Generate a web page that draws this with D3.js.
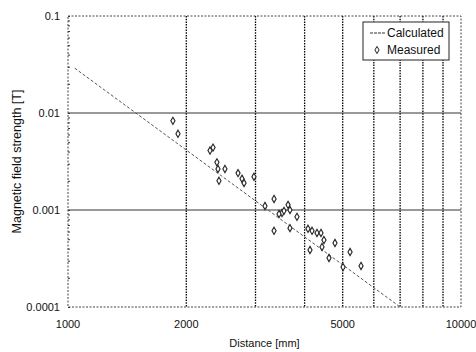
<!DOCTYPE html>
<html>
<head>
<meta charset="utf-8">
<script src="https://cdn.jsdelivr.net/npm/d3@7"></script>
<style>
  body { margin: 0; background: #fff; }
  text { font-family: "Liberation Sans", Arial, sans-serif; fill: #111; }
</style>
</head>
<body>
<div id="chart"></div>
<script>
// Calculated curve (straight in log-log)
const calcDistance = [1040, 7000];
const calcField = [0.029, 0.0001];

// Measured points (distance mm, field T)
const measDistance = [1849, 1905, 2298, 2339, 2393, 2408, 2508, 2422, 2708, 2772, 2805, 2973,
  3344, 3171, 3630, 3504, 3443, 3671, 3825, 3344, 3671, 4080, 4178, 4301, 4403, 4480,
  4779, 4128, 4429, 4614, 5010, 5220, 5567, 3545];
const measField = [0.0083, 0.0061, 0.0041, 0.0044, 0.0031, 0.00265, 0.00265, 0.002, 0.0024, 0.0021, 0.0019, 0.0022,
  0.0013, 0.0011, 0.00113, 0.00093, 0.00091, 0.001, 0.00085, 0.00061, 0.00065, 0.00064, 0.00061, 0.00058, 0.00058, 0.00049,
  0.000457, 0.000387, 0.000416, 0.00032, 0.000258, 0.000369, 0.000265, 0.00098];

const xTickLabels = [1000, 2000, 5000, 10000];
const yTickLabels = [0.1, 0.01, 0.001, 0.0001];
const xGrid = [2000, 3000, 4000, 5000, 6000, 7000, 8000, 9000];
const yGrid = [0.01, 0.001];

const margin = { top: 16, right: 15, bottom: 45, left: 68 };
const width = 476 - margin.left - margin.right;
const height = 352 - margin.top - margin.bottom;

const svg = d3.select("#chart").append("svg")
    .attr("width", 476)
    .attr("height", 352)
    .append("g")
    .attr("transform", `translate(${margin.left},${margin.top})`);

const x = d3.scaleLog().domain([1000, 10000]).range([0, width]);
const y = d3.scaleLog().domain([0.0001, 0.1]).range([height, 0]);

// horizontal grid (solid gray)
svg.selectAll(".hgrid").data(yGrid).enter().append("line")
    .attr("x1", 0).attr("x2", width)
    .attr("y1", d => y(d)).attr("y2", d => y(d))
    .attr("stroke", "#777").attr("stroke-width", 1.3);

// vertical grid (dotted black)
svg.selectAll(".vgrid").data(xGrid).enter().append("line")
    .attr("x1", d => x(d)).attr("x2", d => x(d))
    .attr("y1", 0).attr("y2", height)
    .attr("stroke", "#000").attr("stroke-width", 1.3)
    .attr("stroke-dasharray", "1.5,1.2");

// plot border dotted
svg.append("rect")
    .attr("width", width).attr("height", height)
    .attr("fill", "none").attr("stroke", "#444")
    .attr("stroke-width", 1).attr("stroke-dasharray", "2,1.5");

// minor y ticks inside left axis
const yAxis = d3.axisRight(y).tickValues(y.ticks()).tickSize(2).tickFormat("");
svg.append("g").call(yAxis)
    .call(g => g.select(".domain").remove())
    .selectAll("line").attr("stroke", "#333");

// y labels
svg.selectAll(".ylab").data(yTickLabels).enter().append("text")
    .attr("x", -8).attr("y", d => y(d)).attr("dy", "0.35em")
    .attr("text-anchor", "end").style("font-size", "11px")
    .text(d => d);

// x labels
svg.selectAll(".xlab").data(xTickLabels).enter().append("text")
    .attr("x", d => x(d)).attr("y", height + 21)
    .attr("text-anchor", "middle").style("font-size", "11px")
    .text(d => d);

// axis titles
svg.append("text")
    .attr("x", width / 2).attr("y", height + 40)
    .attr("text-anchor", "middle").style("font-size", "11px")
    .text("Distance [mm]");

svg.append("text")
    .attr("transform", `translate(${-47},${height / 2}) rotate(-90)`)
    .attr("text-anchor", "middle").style("font-size", "12.5px")
    .text("Magnetic field strength [T]");

// calculated line
const calc = calcDistance.map((d, i) => ({ d: d, v: calcField[i] }));
svg.append("path").datum(calc)
    .attr("d", d3.line().x(p => x(p.d)).y(p => y(p.v)))
    .attr("fill", "none").attr("stroke", "#555")
    .attr("stroke-width", 1).attr("stroke-dasharray", "3,2");

// measured points
const meas = measDistance.map((d, i) => ({ d: d, v: measField[i] }));
const diamond = d3.symbol().type(d3.symbolDiamond).size(15);
svg.selectAll(".pt").data(meas).enter().append("path")
    .attr("d", diamond)
    .attr("transform", p => `translate(${x(p.d)},${y(p.v)})`)
    .attr("fill", "#fff").attr("stroke", "#222").attr("stroke-width", 1.1);

// legend
const lg = svg.append("g").attr("transform", `translate(${363 - margin.left},${22 - margin.top})`);
lg.append("rect").attr("width", 86).attr("height", 38)
    .attr("fill", "#fff").attr("stroke", "#222").attr("stroke-width", 1);
lg.append("line").attr("x1", 7).attr("x2", 22).attr("y1", 11).attr("y2", 11)
    .attr("stroke", "#333").attr("stroke-width", 1).attr("stroke-dasharray", "3,1");
lg.append("text").attr("x", 24).attr("y", 11).attr("dy", "0.35em")
    .style("font-size", "12px").text("Calculated");
lg.append("path").attr("d", diamond)
    .attr("transform", "translate(14,28)")
    .attr("fill", "#fff").attr("stroke", "#222");
lg.append("text").attr("x", 24).attr("y", 28).attr("dy", "0.35em")
    .style("font-size", "12px").text("Measured");
</script>
</body>
</html>
